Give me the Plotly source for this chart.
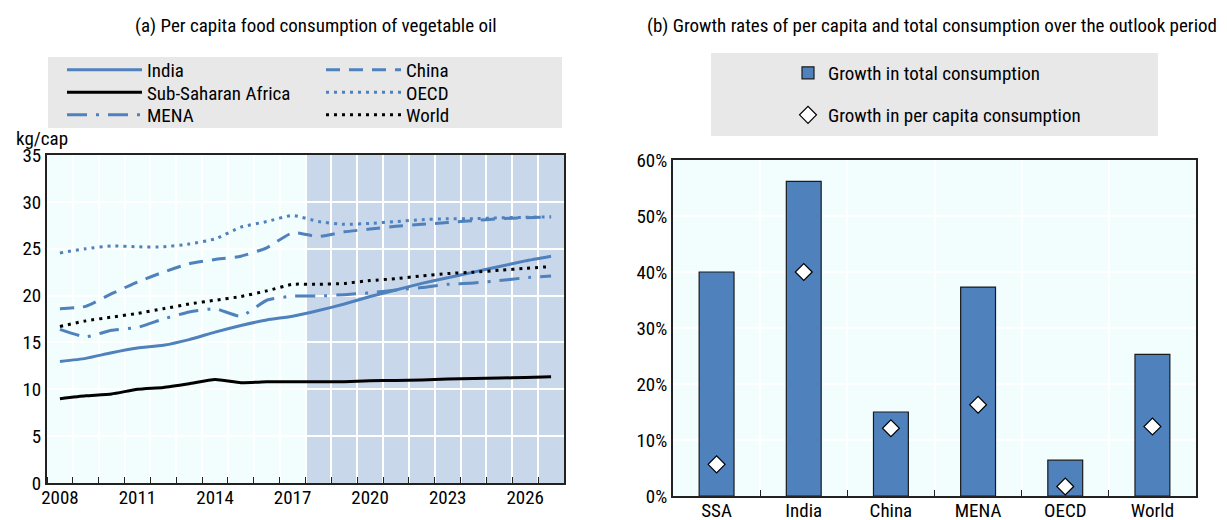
import plotly.graph_objects as go

# (a) per capita food consumption of vegetable oil, kg/cap
years = list(range(2008, 2028))
india = [12.97, 13.3, 13.9, 14.4, 14.7, 15.3, 16.1, 16.8, 17.4, 17.8,
         18.4, 19.1, 19.9, 20.6, 21.3, 21.9, 22.5, 23.1, 23.7, 24.2]
ssa = [9.0, 9.3, 9.5, 10.0, 10.2, 10.6, 11.05, 10.7, 10.8, 10.8,
       10.8, 10.8, 10.9, 10.95, 11.0, 11.1, 11.15, 11.2, 11.25, 11.33]
mena = [16.4, 15.6, 16.3, 16.6, 17.5, 18.25, 18.6, 17.8, 19.5, 19.95,
        19.95, 20.1, 20.3, 20.6, 20.85, 21.2, 21.35, 21.6, 21.9, 22.1]
china = [18.6, 18.85, 20.2, 21.45, 22.5, 23.4, 23.85, 24.2, 25.1, 26.7,
         26.3, 26.8, 27.1, 27.4, 27.6, 27.8, 28.0, 28.2, 28.3, 28.4]
oecd = [24.55, 25.0, 25.3, 25.2, 25.2, 25.5, 26.05, 27.3, 27.9, 28.55,
        27.9, 27.6, 27.7, 27.9, 28.1, 28.2, 28.2, 28.3, 28.35, 28.4]
world = [16.7, 17.3, 17.7, 18.1, 18.6, 19.1, 19.5, 19.9, 20.5, 21.2,
         21.2, 21.3, 21.6, 21.8, 22.1, 22.35, 22.5, 22.7, 22.9, 23.1]
year_ticks = [2008, 2011, 2014, 2017, 2020, 2023, 2026]

# (b) growth over the outlook period, %
regions = ["SSA", "India", "China", "MENA", "OECD", "World"]
total_growth = [40.0, 56.2, 15.0, 37.3, 6.4, 25.3]
per_capita_growth = [5.65, 40.0, 12.1, 16.3, 1.7, 12.4]

BLUE = "#4F81BD"
FONT = "Roboto Condensed, Liberation Sans Narrow, Arial Narrow, sans-serif"
FS = 19
# page body has an 8px margin, so the figure is shrunk to fit the 1227x520 window
OFF = 8
W, H = 1227 - OFF, 520 - OFF


def px_x(v):
    return (v - OFF) / W


def px_y(v):
    return 1 - (v - OFF) / H


fig = go.Figure()

# name, values, colour, dash, legend id, legend left px, legend row centre px
line_specs = [
    ("India", india, BLUE, "solid", "legend", 62, 70),
    ("Sub-Saharan Africa", ssa, "black", "solid", "legend2", 62, 92.5),
    ("MENA", mena, BLUE, "20px,9px,3px,9px", "legend3", 62, 115),
    ("China", china, BLUE, "14px,9px", "legend4", 321, 70),
    ("OECD", oecd, BLUE, "3px,5px", "legend5", 321, 92.5),
    ("World", world, "black", "3px,5px", "legend6", 321, 115),
]
legend_common = dict(bgcolor="rgba(0,0,0,0)", font=dict(family=FONT, size=FS, color="black"),
                     xanchor="left", yanchor="middle", tracegroupgap=0)
legends = {}
for name, vals, color, dash, leg, lx, ly in line_specs:
    fig.add_trace(go.Scatter(
        x=years, y=vals, name=name, mode="lines",
        line=dict(color=color, width=3, dash=dash, shape="spline", smoothing=0.5),
        xaxis="x", yaxis="y", legend=leg,
    ))
    legends[leg] = dict(x=px_x(lx), y=px_y(ly), itemwidth=75, **legend_common)

fig.add_trace(go.Bar(
    x=regions, y=total_growth, name="Growth in total consumption",
    marker=dict(color=BLUE, line=dict(color="#1a1a1a", width=1.2)),
    xaxis="x2", yaxis="y2", legend="legend7",
))
fig.add_trace(go.Scatter(
    x=regions, y=per_capita_growth, name="Growth in per capita consumption",
    mode="markers",
    marker=dict(symbol="diamond", size=13, color="white",
                line=dict(color="black", width=1.2)),
    xaxis="x2", yaxis="y2", legend="legend8",
))
legends["legend7"] = dict(x=px_x(788), y=px_y(73), itemwidth=30, **legend_common)
legends["legend8"] = dict(x=px_x(788), y=px_y(115), itemwidth=30, **legend_common)

# projection period shading
fig.add_shape(type="rect", xref="x", yref="y", x0=2017.5, x1=2027.5, y0=0, y1=35,
              fillcolor="#C9D7EA", line_width=0, layer="below")

# grey legend boxes
fig.add_shape(type="rect", xref="paper", yref="paper",
              x0=px_x(48), x1=px_x(562), y0=px_y(128), y1=px_y(57),
              fillcolor="#E8E8E8", line_width=0, layer="below")
fig.add_shape(type="rect", xref="paper", yref="paper",
              x0=px_x(711), x1=px_x(1158), y0=px_y(136), y1=px_y(53),
              fillcolor="#E8E8E8", line_width=0, layer="below")

fig.update_layout(
    width=W, height=H,
    margin=dict(l=0, r=0, t=0, b=0, autoexpand=False),
    paper_bgcolor="white",
    plot_bgcolor="#F2FDFE",
    font=dict(family=FONT, size=FS, color="black"),
    showlegend=True,
    bargap=0.6,
    xaxis=dict(
        domain=[px_x(47), px_x(564)], anchor="y", automargin=False,
        range=[2007.5, 2027.5], tickvals=year_ticks, ticks="", showgrid=False,
        showline=True, linecolor="#222", linewidth=2, mirror=True,
        minor=dict(tick0=2007.5, dtick=1, ticks="inside", ticklen=6, tickcolor="#222",
                   showgrid=True, gridcolor="white", gridwidth=1.5),
        tickfont=dict(size=FS), zeroline=False, ticklabelstandoff=-4,
    ),
    yaxis=dict(
        domain=[px_y(483), px_y(155)], anchor="x", automargin=False,
        range=[0, 35], dtick=5, showgrid=True, gridcolor="white", gridwidth=1.5,
        showline=True, linecolor="#222", linewidth=2, mirror=True,
        ticks="", tickfont=dict(size=FS), zeroline=False,
    ),
    xaxis2=dict(
        domain=[px_x(673), px_x(1196)], anchor="y2", automargin=False,
        type="category", tickson="boundaries", ticks="inside", ticklen=6, tickcolor="#222",
        showgrid=True, gridcolor="white", gridwidth=1.5,
        showline=True, linecolor="#222", linewidth=2, mirror=True,
        tickfont=dict(size=FS), ticklabelstandoff=-4,
    ),
    yaxis2=dict(
        domain=[px_y(496), px_y(160)], anchor="x2", automargin=False,
        range=[0, 60], dtick=10, ticksuffix="%", showgrid=True, gridcolor="white",
        gridwidth=1.5, showline=True, linecolor="#222", linewidth=2, mirror=True,
        ticks="", tickfont=dict(size=FS), zeroline=False,
    ),
    annotations=[
        dict(text="(a) Per capita food consumption of vegetable oil", x=px_x(316), y=px_y(25),
             xref="paper", yref="paper", xanchor="center", yanchor="middle",
             showarrow=False, font=dict(size=FS)),
        dict(text="(b) Growth rates of per capita and total consumption over the outlook period",
             x=px_x(932), y=px_y(25), xref="paper", yref="paper", xanchor="center",
             yanchor="middle", showarrow=False, font=dict(size=FS)),
        dict(text="kg/cap", x=px_x(14), y=px_y(138), xref="paper", yref="paper",
             xanchor="left", yanchor="middle", showarrow=False, font=dict(size=FS)),
    ],
    **legends,
)

fig.write_html("out.html")
